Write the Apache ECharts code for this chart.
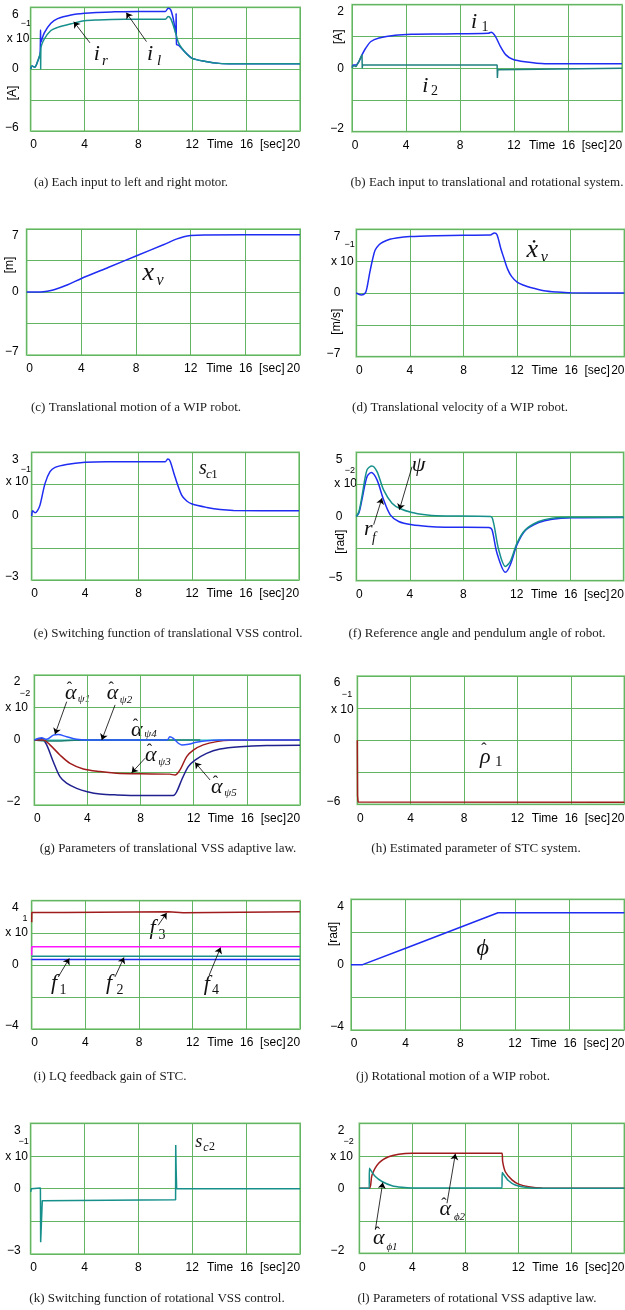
<!DOCTYPE html>
<html>
<head>
<meta charset="utf-8">
<script src="https://cdn.jsdelivr.net/npm/echarts@6/dist/echarts.min.js"></script>
<style>
html, body { margin: 0; padding: 0; background: #fff; }
#chart { width: 625px; height: 1310px; }
</style>
</head>
<body>
<div id="chart"></div>
<script>
// ---- values (time in sec) ----
const xTicks = [0, 4, 8, 12, 16, 20];

// (a) motor inputs
const iLeftT  = [0, 0.1, 0.3, 0.5, 0.7, 0.73, 0.76, 1.0, 1.5, 2.0, 3.0, 4.0, 5.0, 6.0, 8.0, 10.0, 10.2, 10.4, 10.6, 10.78, 10.8, 10.83, 11.0, 11.5, 12.0, 13.0, 14.0, 15.0, 20.0];
const iLeftV  = [0, 0.3, 0.2, 0.7, 1.5, 3.8, 2.6, 3.5, 4.45, 4.9, 5.25, 5.42, 5.5, 5.55, 5.6, 5.6, 5.9, 5.75, 4.8, 3.4, 5.4, 2.4, 2.3, 1.6, 1.05, 0.75, 0.56, 0.52, 0.52];
const iRightT = [0, 0.1, 0.3, 0.5, 0.7, 0.73, 0.74, 0.76, 1.0, 1.5, 2.0, 3.0, 4.0, 5.0, 6.0, 8.0, 10.0, 10.2, 10.4, 10.7, 11.0, 11.5, 12.0, 13.0, 14.0, 15.0, 20.0];
const iRightV = [0, 0.3, 0.2, 0.7, 1.5, 1.7, 0, 2.0, 2.9, 3.75, 4.05, 4.4, 4.7, 4.78, 4.82, 4.84, 4.84, 5.1, 4.9, 3.8, 2.5, 1.6, 1.05, 0.75, 0.56, 0.52, 0.52];

// (b) translational / rotational inputs
const iOneT = [0, 0.1, 0.3, 0.5, 0.74, 1.0, 1.4, 2.0, 3.2, 4.4, 6.9, 10.1, 10.3, 10.6, 11.0, 11.4, 11.9, 12.8, 14.3, 20];
const iOneV = [0.05, 0.1, 0.1, 0.2, 0.42, 0.62, 0.84, 0.95, 1.04, 1.07, 1.08, 1.1, 1.13, 1.02, 0.68, 0.42, 0.28, 0.2, 0.14, 0.14];
const iTwoT = [0, 0.1, 0.3, 0.5, 0.74, 0.76, 0.78, 10.75, 10.77, 10.8, 10.85, 20];
const iTwoV = [0, 0.08, 0.05, 0.2, 0.42, 0, 0.1, 0.1, -0.31, -0.05, 0, 0];

// (c) x_v
const xvT = [0, 1.0, 1.5, 2.0, 3.0, 4.0, 6.0, 8.0, 10.0, 11.0, 11.5, 12.0, 13.0, 20];
const xvV = [0, 0, 0.08, 0.25, 0.8, 1.5, 2.75, 4.0, 5.25, 5.9, 6.15, 6.27, 6.33, 6.37];

// (d) velocity
const dxvT = [0, 0.37, 0.67, 0.8, 1.0, 1.2, 1.4, 1.7, 2.0, 2.5, 3.0, 4.0, 6.0, 8.0, 10.0, 10.3, 10.5, 10.8, 11.0, 11.3, 11.6, 12.0, 12.5, 13.0, 14.0, 15.0, 16.0, 20];
const dxvV = [0, -0.22, 0, 0.6, 2.2, 3.6, 4.7, 5.3, 5.6, 5.9, 6.05, 6.2, 6.3, 6.35, 6.37, 6.6, 6.4, 4.8, 3.9, 2.6, 1.8, 1.2, 0.85, 0.6, 0.25, 0.1, 0.02, 0];

// (e) s_c1
const sc1T = [0, 0.07, 0.25, 0.42, 0.62, 1.0, 1.37, 1.75, 2.6, 4.0, 5.6, 7.6, 10.0, 10.17, 10.35, 10.72, 11.22, 11.6, 12.0, 13.1, 14.1, 15.1, 20];
const sc1V = [0, 0.25, 0.16, 0.25, 0.52, 1.54, 2.09, 2.29, 2.43, 2.53, 2.56, 2.56, 2.56, 2.68, 2.59, 1.85, 0.99, 0.71, 0.57, 0.41, 0.31, 0.27, 0.25];

// (f) psi and r_f
const psiT = [0, 0.2, 0.42, 0.8, 1.17, 1.55, 2.04, 2.67, 3.3, 4.16, 5.16, 6.0, 10.05, 10.27, 10.65, 11.15, 11.52, 12.02, 12.64, 13.64, 14.64, 16.1, 20];
const psiV = [0, 0.4, 1.55, 3.63, 3.94, 3.5, 2.07, 1.04, 0.6, 0.31, 0.13, 0.05, 0, -0.52, -2.59, -3.89, -3.5, -2.07, -1.04, -0.39, -0.13, -0.05, -0.05];
const rfT  = [0, 0.2, 0.42, 0.8, 1.12, 1.55, 2.04, 2.54, 3.17, 4.16, 5.4, 6.66, 9.9, 10.15, 10.52, 11.15, 11.52, 12.02, 12.64, 13.64, 14.64, 16.1, 20];
const rfV  = [0, 0.3, 1.3, 3.1, 3.42, 2.85, 1.3, 0.13, -0.39, -0.65, -0.78, -0.83, -0.85, -1.04, -2.85, -4.35, -3.76, -2.2, -1.09, -0.47, -0.21, -0.1, -0.08];

// (g) translational adaptive parameters
const aPsi1T = [0, 0.55, 0.93, 1.43, 1.8, 2.43, 3.19, 4.0, 10.0, 10.2, 10.46, 10.84, 11.1, 11.6, 12.2, 13.0, 14.0, 20];
const aPsi1V = [0, 0.07, 0.02, 0.15, 0.17, 0.1, 0.02, 0, 0, 0.1, 0.05, -0.1, -0.15, -0.13, -0.07, -0.02, 0, 0];
const aPsi2T = [0, 1, 2, 3, 4, 12.5];
const aPsi2V = [0, -0.03, -0.03, -0.01, 0, 0];
const aPsi4T = [0, 20];
const aPsi4V = [0, 0];
const aPsi3T = [0, 0.68, 1.18, 1.93, 2.69, 3.69, 4.94, 6.2, 7.95, 10.2, 10.59, 10.97, 11.47, 11.97, 12.72, 13.73, 14.73, 20];
const aPsi3V = [0, 0, -0.15, -0.46, -0.72, -0.89, -0.97, -1.02, -1.04, -1.05, -1.08, -0.92, -0.51, -0.31, -0.15, -0.05, -0.01, 0];
const aPsi5T = [0, 0.55, 0.93, 1.43, 1.93, 2.43, 3.19, 3.99, 4.94, 6.2, 7.95, 10.46, 10.72, 11.09, 11.59, 12.1, 12.97, 13.98, 15.48, 17.49, 20];
const aPsi5V = [0, 0.05, -0.15, -0.67, -1.13, -1.33, -1.49, -1.59, -1.66, -1.69, -1.71, -1.71, -1.59, -1.23, -0.82, -0.62, -0.41, -0.28, -0.21, -0.17, -0.16];

// (h) rho_1
const rhoT = [0, 0.02, 0.06, 20];
const rhoV = [0, -5.2, -5.78, -5.8];

// (i) LQ gains
const f3T = [0, 0.01, 2.37, 2.4, 10.2, 10.22, 11.3, 11.32, 20];
const f3V = [2.65, 3.27, 3.27, 3.31, 3.31, 3.25, 3.25, 3.31, 3.31];
const f4T = [0, 0.01, 20];
const f4V = [0.6, 1.13, 1.13];
const f2T = [0, 20];
const f2V = [0.54, 0.54];
const f1T = [0, 20];
const f1V = [0.33, 0.33];

// (j) phi
const phiT = [0, 0.85, 4.0, 8.0, 10.76, 20];
const phiV = [0, 0, 1.0, 2.29, 3.18, 3.18];

// (k) s_c2
const sc2T = [0, 0.05, 0.72, 0.74, 0.8, 0.86, 0.9, 10.76, 10.77, 10.8, 10.84, 20];
const sc2V = [-0.15, 0, 0.03, -2.46, -2.4, -0.55, -0.51, -0.51, 2.0, 0.9, 0, 0];

// (l) rotational adaptive parameters
const aPhi2T = [0, 0.75, 0.96, 1.46, 2.21, 2.97, 3.97, 6.5, 10.77, 10.82, 11.02, 11.52, 12.03, 12.78, 13.8, 20];
const aPhi2V = [0, 0, 0.41, 0.77, 0.97, 1.05, 1.08, 1.08, 1.08, 0.82, 0.51, 0.26, 0.13, 0.05, 0.01, 0];
const aPhi1T = [0, 0.75, 0.76, 1.21, 1.71, 2.47, 3.22, 4.0, 10.77, 10.78, 11.27, 11.77, 12.53, 13.3, 20];
const aPhi1V = [0, 0, 0.62, 0.36, 0.21, 0.08, 0.03, 0.01, 0.01, 0.49, 0.23, 0.1, 0.03, 0, 0];

// ---- styling ----
const BLUE = '#1f2cf2', TEAL = '#17908c', RED = '#a01c1c', NAVY = '#20208f',
      MAGENTA = '#ff14ff', CYAN = '#5fd0d0', DTEAL = '#1a7f72', LBLUE = '#2d55ff';
const GRIDLINE = '#63b463', BORDER = '#a3d89d';
const SANS = '"Liberation Sans Narrow", "Liberation Sans", Arial, sans-serif';
const SERIF = '"Liberation Serif", "DejaVu Serif", serif';

const line = (t, v, color, smooth) => ({ t, v, color, smooth });

const panels = [
  { box: [30.7, 7.3, 269.3, 123.7], yMax: 6, yMargin: 12,
    lines: [line(iLeftT, iLeftV, BLUE, 0.3), line(iRightT, iRightV, TEAL, 0.3)],
    arrows: [[4.4, 2.55, 3.2, 4.6], [8.6, 2.67, 7.1, 5.48]] },
  { box: [352, 4.7, 270, 127], yMax: 2, yMargin: 8,
    lines: [line(iOneT, iOneV, BLUE, 0.3), line(iTwoT, iTwoV, '#1f8080', false)] },
  { box: [26.7, 229, 273.3, 126], yMax: 7, yMargin: 8,
    lines: [line(xvT, xvV, BLUE, 0.3)] },
  { box: [356.3, 229.3, 268, 127.4], yMax: 7, yMargin: 16,
    lines: [line(dxvT, dxvV, BLUE, 0.3)] },
  { box: [31.7, 452.3, 267.3, 127.7], yMax: 3, yMargin: 13,
    lines: [line(sc1T, sc1V, BLUE, 0.3)] },
  { box: [356.3, 452.3, 267.4, 128.4], yMax: 5, yMargin: 14,
    lines: [line(rfT, rfV, BLUE, 0.3), line(psiT, psiV, TEAL, 0.3)],
    arrows: [[4.17, 3.88, 3.22, 0.52], [1.3, -0.64, 1.92, 1.43]] },
  { box: [34.3, 675, 265.7, 130], yMax: 2, yMargin: 14,
    lines: [line(aPsi5T, aPsi5V, NAVY, 0.3), line(aPsi4T, aPsi4V, CYAN, false), line(aPsi2T, aPsi2V, DTEAL, 0.3),
            line(aPsi3T, aPsi3V, RED, 0.3), line(aPsi1T, aPsi1V, LBLUE, 0.3)],
    arrows: [[2.44, 1.18, 1.56, 0.18], [6.08, 1.08, 5.08, 0], [8.34, -0.56, 7.33, -1.01], [13.23, -1.23, 12.1, -0.69]] },
  { box: [357.3, 676, 267, 128.3], yMax: 6, yMargin: 17,
    lines: [line(rhoT, rhoV, RED, false)] },
  { box: [31.7, 900.7, 268.3, 128.3], yMax: 4, yMargin: 13,
    lines: [line(f3T, f3V, RED, false), line(f4T, f4V, MAGENTA, false), line(f2T, f2V, TEAL, false), line(f1T, f1V, BLUE, false)],
    arrows: [[1.98, -0.75, 2.8, 0.4], [6.21, -0.75, 6.88, 0.46], [9.43, 2.47, 10.06, 3.24], [13.23, -0.64, 14.08, 1.08]] },
  { box: [351, 899.3, 273.3, 130.7], yMax: 4, yMargin: 7,
    lines: [line(phiT, phiV, BLUE, false)] },
  { box: [30.7, 1123.3, 269.3, 130.7], yMax: 3, yMargin: 10,
    lines: [line(sc2T, sc2V, TEAL, false)] },
  { box: [359.3, 1123.3, 265, 130], yMax: 2, yMargin: 15,
    lines: [line(aPhi2T, aPhi2V, RED, 0.3), line(aPhi1T, aPhi1V, TEAL, 0.3)],
    arrows: [[6.62, -0.46, 7.25, 1.06], [1.21, -1.28, 1.77, 0.18]] }
];

// captions: [text, centre x, centre y]
const captions = [
  ['(a) Each input to left and right motor.', 131, 183],
  ['(b) Each input to translational and rotational system.', 487, 183],
  ['(c) Translational motion of a WIP robot.', 136, 408],
  ['(d) Translational velocity of a WIP robot.', 460, 408],
  ['(e) Switching function of translational VSS control.', 168, 634],
  ['(f) Reference angle and pendulum angle of robot.', 477, 634],
  ['(g) Parameters of translational VSS adaptive law.', 168, 849],
  ['(h) Estimated parameter of STC system.', 476, 849],
  ['(i) LQ feedback gain of STC.', 110, 1077],
  ['(j) Rotational motion of a WIP robot.', 453, 1077],
  ['(k) Switching function of rotational VSS control.', 157, 1299],
  ['(l) Parameters of rotational VSS adaptive law.', 477, 1299]
];

// scale factors and units beside the y axes
const scaleTexts = [
  ['x 10', 18, 38.5, 12], ['\u22121', 25.8, 23.7, 9],
  ['x 10', 342.3, 261.7, 12], ['\u22121', 349.7, 245, 9],
  ['x 10', 17, 481.7, 12], ['\u22121', 25.8, 469.3, 9],
  ['x 10', 345.7, 484, 12], ['\u22122', 349.8, 471, 9],
  ['x 10', 16.7, 707.5, 12], ['\u22122', 25, 694, 9],
  ['x 10', 342.3, 709.5, 12], ['\u22121', 347, 694.5, 9],
  ['x 10', 16.7, 932.7, 12], ['1', 25, 918.8, 9],
  ['x 10', 16.7, 1156.7, 12], ['\u22121', 23.7, 1142, 9],
  ['x 10', 341.5, 1156.7, 12], ['\u22122', 348.7, 1141.3, 9]
];
const unitTexts = [
  ['[A]', 13, 93], ['[A]', 338.7, 36.7], ['[m]', 10, 265], ['[m/s]', 337, 321.7],
  ['[rad]', 340.3, 541.7], ['[rad]', 333.7, 934]
];

// symbols next to the curves: [text, x, y, size, italic]
const mathTexts = [
  ['i', 96.7, 54, 22, 1], ['r', 105, 61.5, 15, 1], ['i', 150, 54, 22, 1], ['l', 159, 61.5, 15, 1],
  ['i', 474, 22.5, 22, 1], ['1', 485, 27, 14, 0], ['i', 425.3, 85.8, 22, 1], ['2', 434.5, 91.7, 14, 0],
  ['x', 148.3, 273, 26, 1], ['v', 160, 281, 16, 1],
  ['\u1E8B', 532.3, 250, 26, 1], ['v', 544.3, 257.5, 16, 1],
  ['s', 203, 469, 20, 1], ['c', 209, 475, 13, 1], ['1', 214.5, 474.5, 13, 0],
  ['\u03C8', 418.7, 465, 22, 1], ['r', 368.3, 529, 22, 1], ['f', 374, 538.3, 14, 1],
  ['\u03B1', 70.8, 693.3, 22, 1], ['\u03C81', 84, 699, 11, 1],
  ['\u03B1', 112.5, 693.3, 22, 1], ['\u03C82', 126, 700, 11, 1],
  ['\u03B1', 136.7, 730, 22, 1], ['\u03C84', 150.5, 734, 11, 1],
  ['\u03B1', 150.8, 755, 22, 1], ['\u03C83', 164.5, 761.7, 11, 1],
  ['\u03B1', 216.7, 787.5, 22, 1], ['\u03C85', 230.5, 793, 11, 1],
  ['\u03C1', 485.3, 757, 22, 1], ['1', 498.7, 761.7, 15, 0],
  ['f', 54, 983, 22, 1], ['1', 63, 990, 14, 0], ['f', 109, 983, 22, 1], ['2', 120, 990, 14, 0],
  ['f', 152.5, 928, 22, 1], ['3', 162, 935.8, 14, 0], ['f', 206.7, 984, 22, 1], ['4', 215.5, 990, 14, 0],
  ['\u03D5', 482.7, 948.3, 24, 1],
  ['s', 198.8, 1142, 18, 1], ['c', 206, 1147.5, 12, 1], ['2', 212, 1147, 12, 0],
  ['\u03B1', 445.3, 1209, 22, 1], ['\u03D52', 459.5, 1216.7, 11, 1],
  ['\u03B1', 378.7, 1238.3, 22, 1], ['\u03D51', 392, 1246.7, 11, 1]
];
// hats drawn above alpha / rho: [x, y of the visible mark]
const hats = [[69.5, 685], [111.2, 685], [135.4, 721.7], [149.5, 746.7], [215.4, 779.2],
              [484, 746], [444, 1200.7], [377.4, 1230]];

// ---- build option ----
const minus = v => (v < 0 ? '\u2212' + Math.abs(v) : String(v));
const grid = [], xAxis = [], yAxis = [], series = [], graphic = [];
const labelRich = (extra) => Object.assign({ fontSize: 12, fontFamily: SANS, color: '#000' }, extra);

panels.forEach((p, gi) => {
  grid.push({ left: p.box[0], top: p.box[1], width: p.box[2], height: p.box[3],
    show: true, borderColor: BORDER, borderWidth: 2, containLabel: false, outerBoundsMode: 'none' });
  xAxis.push({ gridIndex: gi, type: 'value', min: xTicks[0], max: xTicks[xTicks.length - 1], interval: 4,
    axisLine: { show: false }, axisTick: { show: false },
    splitLine: { show: true, lineStyle: { color: GRIDLINE, width: 1 } },
    axisLabel: { margin: 8, color: '#000', fontSize: 12, fontFamily: SANS,
      formatter: v => (v === 16 ? 'Time  16  [sec]' : v === 0 ? '{l|0}' : v === 20 ? '{r|20}' : String(v)),
      rich: { l: labelRich({ padding: [0, 0, 0, 6] }), r: labelRich({ padding: [0, 13, 0, 0] }) } } });
  const m = p.yMax;
  yAxis.push({ gridIndex: gi, type: 'value', min: -m, max: m, interval: m / 2,
    axisLine: { show: false }, axisTick: { show: false },
    splitLine: { show: true, lineStyle: { color: GRIDLINE, width: 1 } },
    axisLabel: { margin: p.yMargin, color: '#000', fontSize: 12, fontFamily: SANS,
      formatter: v => (v === m ? '{top|' + v + '}' : v === -m ? '{bot|' + minus(v) + '}' : v === 0 ? '0' : ''),
      rich: { top: labelRich({ padding: [14, 0, 0, 0] }), bot: labelRich({ padding: [0, 0, 6, 0] }) } } });
  p.lines.forEach((s, k) => {
    const item = { type: 'line', xAxisIndex: gi, yAxisIndex: gi,
      data: s.t.map((t, j) => [t, s.v[j]]),
      showSymbol: false, symbol: 'none', smooth: s.smooth,
      lineStyle: { color: s.color, width: 1.5 }, itemStyle: { color: s.color },
      silent: true, animation: false, z: 3 };
    if (k === 0 && p.arrows) {
      item.markLine = { silent: true, animation: false, symbol: ['none', 'arrow'], symbolSize: 6,
        label: { show: false }, emphasis: { disabled: true },
        lineStyle: { color: '#000', width: 0.8, type: 'solid' },
        data: p.arrows.map(a => [{ coord: [a[0], a[1]] }, { coord: [a[2], a[3]] }]) };
    }
    series.push(item);
  });
});

captions.forEach(c => graphic.push({ type: 'text', x: c[1], y: c[2], silent: true,
  style: { text: c[0], font: '13px ' + SERIF, fill: '#222', align: 'center', verticalAlign: 'middle' } }));
scaleTexts.forEach(c => graphic.push({ type: 'text', x: c[1], y: c[2], silent: true,
  style: { text: c[0], font: c[3] + 'px ' + SANS, fill: '#000', align: 'center', verticalAlign: 'middle' } }));
unitTexts.forEach(c => graphic.push({ type: 'text', x: c[1], y: c[2], rotation: Math.PI / 2, silent: true,
  style: { text: c[0], font: '12px ' + SANS, fill: '#000', align: 'center', verticalAlign: 'middle' } }));
mathTexts.forEach(c => graphic.push({ type: 'text', x: c[1], y: c[2], silent: true,
  style: { text: c[0], font: (c[4] ? 'italic ' : '') + c[3] + 'px ' + SERIF, fill: '#111', align: 'center', verticalAlign: 'middle' } }));
hats.forEach(h => graphic.push({ type: 'text', x: h[0], y: h[1] + 4, silent: true,
  style: { text: '\u02C6', font: '16px ' + SERIF, fill: '#111', align: 'center', verticalAlign: 'middle' } }));

const chart = echarts.init(document.getElementById('chart'));
chart.setOption({ animation: false, backgroundColor: '#fff', grid, xAxis, yAxis, series, graphic });
</script>
</body>
</html>
